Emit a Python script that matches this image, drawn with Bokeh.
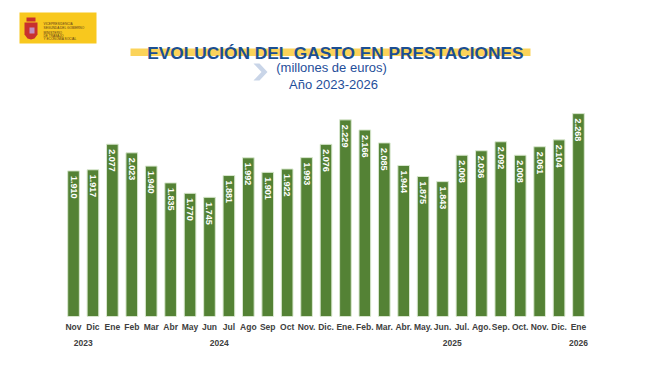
import math
from bokeh.plotting import figure
from bokeh.models import (FactorRange, Range1d, Label, BoxAnnotation, PolyAnnotation,
                          ColumnDataSource)
from bokeh.core.properties import value
from bokeh.embed import file_html
from bokeh.resources import INLINE

# ---------------- data ----------------
years = ["2023"] * 2 + ["2024"] * 12 + ["2025"] * 12 + ["2026"]
months = ["Nov", "Dic", "Ene", "Feb", "Mar", "Abr", "May", "Jun", "Jul", "Ago", "Sep", "Oct",
          "Nov.", "Dic.", "Ene.", "Feb.", "Mar.", "Abr.", "May.", "Jun.", "Jul.", "Ago.", "Sep.",
          "Oct.", "Nov.", "Dic.", "Ene"]
values = [1910, 1917, 2077, 2023, 1940, 1835, 1770, 1745, 1881, 1992, 1901, 1922, 1993, 2076,
          2229, 2166, 2085, 1944, 1875, 1843, 2008, 2036, 2092, 2008, 2061, 2104, 2268]
title_text = "EVOLUCIÓN DEL GASTO EN PRESTACIONES"
subtitle_1 = "(millones de euros)"
subtitle_2 = "Año 2023-2026"

FONT = "Liberation Sans"
FW, FH = 651, 316        # frame covers the full width; frame bottom = bar baseline
BB = 40                  # bottom border for the axis

factors = list(zip(years, months))
labels = [f"{v // 1000}.{v % 1000:03d}" for v in values]
src = ColumnDataSource(dict(x=factors, top=values, label=labels))

p = figure(frame_width=FW, frame_height=FH, output_backend="svg", toolbar_location=None,
           x_range=FactorRange(*factors, group_padding=0, factor_padding=0,
                               range_padding=3.26, range_padding_units="absolute"),
           y_range=Range1d(1000, 2975))
p.min_border_left = 0
p.min_border_right = 0
p.min_border_top = 0
p.min_border_bottom = BB
p.outline_line_color = None
p.background_fill_color = "white"
p.border_fill_color = "white"
p.xgrid.visible = False
p.ygrid.visible = False
p.yaxis.visible = False

p.vbar(x="x", top="top", bottom=1000, width=0.6, source=src,
       fill_color="#548235", line_color="#d9e8cf", line_width=1)
p.text(x="x", y="top", text="label", source=src, angle=-math.pi / 2,
       text_align="left", text_baseline="middle", y_offset=5,
       text_color="white", text_font=value(FONT), text_font_style="bold",
       text_font_size="9px")

ax = p.xaxis[0]
ax.axis_line_color = None
ax.major_tick_line_color = None
ax.major_tick_out = 0
ax.major_tick_in = 0
ax.minor_tick_line_color = None
ax.separator_line_color = None
ax.major_label_standoff = 5
ax.major_label_text_font = FONT
ax.major_label_text_font_style = "bold"
ax.major_label_text_font_size = "8.5px"
ax.major_label_text_color = "#404040"
ax.major_label_text_line_height = 0.7
ax.major_label_orientation = "horizontal"
ax.group_text_font = FONT
ax.group_text_font_style = "bold"
ax.group_text_font_size = "8.5px"
ax.group_text_color = "#404040"
ax.group_text_line_height = 0.8


# positions below are page pixels converted to frame-relative screen units
def sx(px):
    return px


def sy(py):
    return FH - py


def box(l, r, t, b, color):
    return BoxAnnotation(left=sx(l), right=sx(r), top=sy(t), bottom=sy(b),
                         left_units="screen", right_units="screen", top_units="screen",
                         bottom_units="screen", fill_color=color, fill_alpha=1,
                         line_color=None, level="overlay")


def poly(xs, ys, color):
    return PolyAnnotation(xs=[sx(v) for v in xs], ys=[sy(v) for v in ys],
                          xs_units="screen", ys_units="screen", fill_color=color,
                          fill_alpha=1, line_color=None, level="overlay")


# logo
p.add_layout(box(19, 96, 12, 43, "#f8c81e"))
p.add_layout(poly([24, 37, 37, 34, 30.5, 27, 24], [22, 22, 34, 38, 39, 38, 34], "#c8312e"))
p.add_layout(poly([26, 35, 35, 26], [17, 17, 21, 21], "#c8312e"))
p.add_layout(poly([29, 34, 34, 29], [27, 27, 33, 33], "#c08fc0"))
for t, yy in [("VICEPRESIDENCIA", 23), ("SEGUNDA DEL GOBIERNO", 27), ("MINISTERIO", 32),
              ("DE TRABAJO", 35), ("Y ECONOMÍA SOCIAL", 38.5)]:
    p.add_layout(Label(x=sx(43), y=sy(yy), x_units="screen", y_units="screen", text=t,
                       text_font=FONT, text_font_size="3.2px", text_color="#5a3a1a",
                       text_baseline="middle", text_align="left", level="overlay"))

# title highlight + title
p.add_layout(box(130, 530, 48, 55.5, "#fbd35a"))
p.add_layout(Label(x=sx(335), y=sy(52), x_units="screen", y_units="screen", text=title_text,
                   text_font=FONT, text_font_style="bold", text_font_size="17.3px",
                   text_color="#1b4f93", text_align="center", text_baseline="alphabetic",
                   level="overlay"))
p.add_layout(poly([253, 259, 267, 259, 253, 261], [63, 63, 71.5, 80, 80, 71.5], "#c9d5e8"))
p.add_layout(Label(x=sx(331), y=sy(67), x_units="screen", y_units="screen", text=subtitle_1,
                   text_font=FONT, text_font_size="13px", text_color="#1f4e9a",
                   text_align="center", text_baseline="middle", level="overlay"))
p.add_layout(Label(x=sx(333), y=sy(84), x_units="screen", y_units="screen", text=subtitle_2,
                   text_font=FONT, text_font_size="13px", text_color="#1f4e9a",
                   text_align="center", text_baseline="middle", level="overlay"))

open("out.html", "w").write(file_html(p, INLINE))
